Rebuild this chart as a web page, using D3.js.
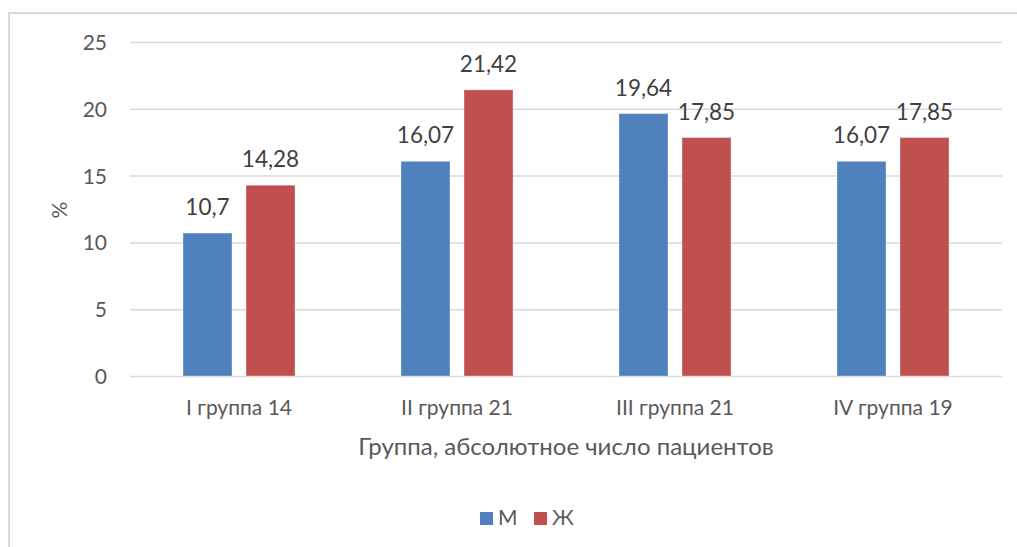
<!DOCTYPE html>
<html>
<head>
<meta charset="utf-8">
<script src="https://cdn.jsdelivr.net/npm/d3@7"></script>
<style>
  html, body { margin: 0; padding: 0; background: #fff; }
  svg { display: block; }
  text { font-family: Lato, "Open Sans", sans-serif; }
</style>
</head>
<body>
<svg id="chart" width="1017" height="547"></svg>
<script>
const categories = ["I группа 14", "II группа 21", "III группа 21", "IV группа 19"];
const seriesNames = ["М", "Ж"];
const valuesM = [10.7, 16.07, 19.64, 16.07];
const valuesZh = [14.28, 21.42, 17.85, 17.85];
const yTicks = [0, 5, 10, 15, 20, 25];
const xTitle = "Группа, абсолютное число пациентов";
const yTitle = "%";
const colors = ["#4F81BD", "#C0504D"];

const svg = d3.select("#chart");

// outer frame
svg.append("rect").attr("x", 9).attr("y", 13).attr("width", 1100).attr("height", 600)
  .attr("fill", "none").attr("stroke", "#d9d9d9").attr("stroke-width", 2);

const pLeft = 130, pRight = 1002, pTop = 42, pBottom = 376;
const y = d3.scaleLinear().domain([0, 25]).range([pBottom, pTop]);
const x0 = d3.scaleBand().domain(categories).range([pLeft, pRight]).paddingInner(0.486).paddingOuter(0.243);
const x1 = d3.scaleBand().domain(seriesNames).range([0, x0.bandwidth()]).paddingInner(0.222);
const color = d3.scaleOrdinal().domain(seriesNames).range(colors);

// gridlines
const yAxis = d3.axisLeft(y).tickValues(yTicks).tickSize(-(pRight - pLeft)).tickFormat(d => d).tickPadding(23);
const ga = svg.append("g").attr("transform", `translate(${pLeft},0)`).call(yAxis);
ga.select(".domain").remove();
ga.selectAll(".tick line").attr("stroke", "#d9d9d9").attr("stroke-width", 1.5);
ga.selectAll(".tick text").attr("fill", "#595959").style("font-size", "21px").attr("dy", "0.36em");

// bars
const data = categories.map((c, i) => ({ cat: c, vals: [
  { s: seriesNames[0], v: valuesM[i] },
  { s: seriesNames[1], v: valuesZh[i] }
]}));

const groups = svg.append("g").selectAll("g").data(data).join("g")
  .attr("transform", d => `translate(${x0(d.cat)},0)`);

groups.selectAll("rect").data(d => d.vals).join("rect")
  .attr("x", d => x1(d.s))
  .attr("y", d => y(d.v))
  .attr("width", x1.bandwidth())
  .attr("height", d => y(0) - y(d.v))
  .attr("fill", d => color(d.s))
  .attr("stroke", "#ffffff").attr("stroke-opacity", 0.35).attr("stroke-width", 1);

groups.selectAll("text.val").data(d => d.vals).join("text")
  .attr("class", "val")
  .attr("x", d => x1(d.s) + x1.bandwidth() / 2)
  .attr("y", d => y(d.v) - 18)
  .attr("text-anchor", "middle")
  .attr("fill", "#404040")
  .style("font-size", "22.5px")
  .text(d => String(d.v).replace(".", ","));

// category labels
svg.append("g").selectAll("text").data(categories).join("text")
  .attr("x", d => x0(d) + x0.bandwidth() / 2)
  .attr("y", 415)
  .attr("text-anchor", "middle")
  .attr("fill", "#595959")
  .style("font-size", "21px")
  .text(d => d);

// axis titles
svg.append("text").attr("x", 566).attr("y", 455).attr("text-anchor", "middle")
  .attr("fill", "#595959").style("font-size", "24px").text(xTitle);
svg.append("text").attr("transform", "translate(67,210) rotate(-90)").attr("text-anchor", "middle")
  .attr("fill", "#595959").style("font-size", "21px").text(yTitle);

// legend
const legendX = [480, 534];
const lg = svg.append("g").selectAll("g").data(seriesNames).join("g")
  .attr("transform", (d, i) => `translate(${legendX[i]},512)`);
lg.append("rect").attr("width", 13).attr("height", 13).attr("fill", d => color(d));
lg.append("text").attr("x", 18).attr("y", 13).attr("fill", "#595959").style("font-size", "21px").text(d => d);
</script>
</body>
</html>
